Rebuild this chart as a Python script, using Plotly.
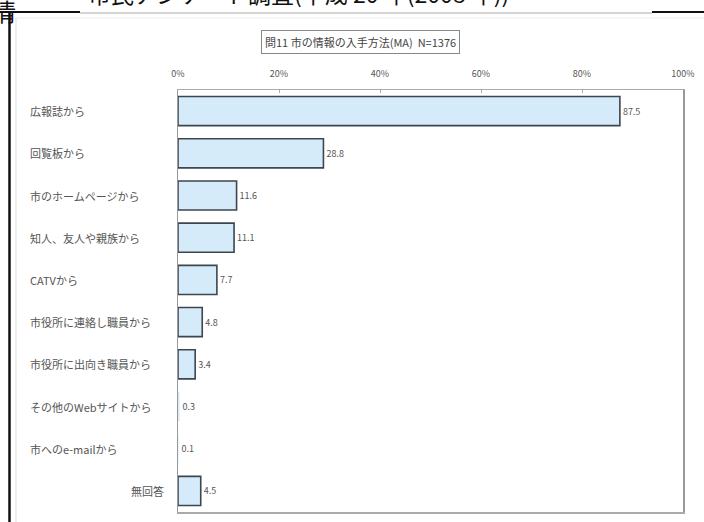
import plotly.graph_objects as go

categories = ["広報誌から", "回覧板から", "市のホームページから", "知人、友人や親族から", "CATVから",
              "市役所に連絡し職員から", "市役所に出向き職員から", "その他のWebサイトから", "市へのe-mailから", "無回答"]
values = [87.5, 28.8, 11.6, 11.1, 7.7, 4.8, 3.4, 0.3, 0.1, 4.5]
tick_vals = [0, 20, 40, 60, 80, 100]
tick_text = ["0%", "20%", "40%", "60%", "80%", "100%"]
chart_title = "問11 市の情報の入手方法(MA)  N=1376"
page_title = "市民アンケート調査(平成 20 年(2008 年))"

FONT = "Noto Sans CJK JP"
W, H = 704, 522
L, R, T, B = 178, 683, 90, 512

def px(x):
    return (x - L) / (R - L)

def py(y):
    return (B - y) / (B - T)

fig = go.Figure()
fig.add_trace(go.Bar(
    x=values, y=categories, orientation="h",
    marker=dict(color="#D5EBFA",
                line=dict(color="#3C4650", width=[1.6 if v >= 1 else 0 for v in values])),
    text=[f"{v:.1f}" for v in values], textposition="outside",
    textfont=dict(family=FONT, size=9, color="#555555"),
    cliponaxis=False, hoverinfo="skip",
))

annotations = []
for c in categories:
    if c == "無回答":
        annotations.append(dict(x=px(166), xref="paper", y=c, yref="y", text=c, showarrow=False,
                                xanchor="right", font=dict(family=FONT, size=11, color="#555555")))
    else:
        annotations.append(dict(x=px(28), xref="paper", y=c, yref="y", text=c, showarrow=False,
                                xanchor="left", font=dict(family=FONT, size=11, color="#555555")))

annotations.append(dict(x=px(360), xref="paper", y=py(42), yref="paper", text=chart_title, showarrow=False,
                        xanchor="center", yanchor="middle", font=dict(family=FONT, size=11, color="#444444"),
                        bordercolor="#888888", borderwidth=1, borderpad=3, bgcolor="white"))
annotations.append(dict(x=px(298), xref="paper", y=py(12), yref="paper", text=page_title, showarrow=False,
                        xanchor="center", yanchor="bottom", font=dict(family=FONT, size=23, color="#111111")))
annotations.append(dict(x=px(18), xref="paper", y=py(30), yref="paper", text="情", showarrow=False,
                        xanchor="right", yanchor="bottom", font=dict(family=FONT, size=24, color="#111111")))

shapes = [
    dict(type="line", xref="paper", yref="paper", x0=px(0), x1=px(80), y0=py(12), y1=py(12),
         line=dict(color="#111111", width=2)),
    dict(type="line", xref="paper", yref="paper", x0=px(652), x1=px(704), y0=py(12), y1=py(12),
         line=dict(color="#111111", width=2)),
    dict(type="line", xref="paper", yref="paper", x0=px(80), x1=px(652), y0=py(13), y1=py(13),
         line=dict(color="#aaaaaa", width=1)),
    dict(type="line", xref="paper", yref="paper", x0=px(9.5), x1=px(9.5), y0=py(12), y1=py(522),
         line=dict(color="#111111", width=2.5)),
    dict(type="line", xref="paper", yref="paper", x0=px(16), x1=px(16), y0=py(18), y1=py(522),
         line=dict(color="#dddddd", width=1)),
    dict(type="line", xref="paper", yref="paper", x0=px(16), x1=px(704), y0=py(18), y1=py(18),
         line=dict(color="#eeeeee", width=1)),
]

fig.update_layout(
    width=W, height=H,
    margin=dict(l=L, r=W - R, t=T, b=H - B, pad=0, autoexpand=False),
    paper_bgcolor="white", plot_bgcolor="white",
    showlegend=False, bargap=0.31,
    annotations=annotations, shapes=shapes,
    font=dict(family=FONT),
)
fig.update_xaxes(range=[0, 100], side="top", tickvals=tick_vals, ticktext=tick_text,
                 tickfont=dict(family=FONT, size=9, color="#555555"),
                 ticks="inside", ticklen=3, tickcolor="#aaaaaa",
                 showgrid=False, zeroline=False, showline=True, linecolor="#aaaaaa",
                 linewidth=1.5, mirror=True, ticklabelstandoff=8, automargin=False)
fig.update_yaxes(autorange="reversed", showticklabels=False, showgrid=False, zeroline=False,
                 showline=True, linecolor="#999999", linewidth=1.5, mirror=True, automargin=False)

fig.write_html("out.html", config={"displayModeBar": False, "staticPlot": True},
               post_script="document.body.style.margin='0';document.body.style.overflow='hidden';")
